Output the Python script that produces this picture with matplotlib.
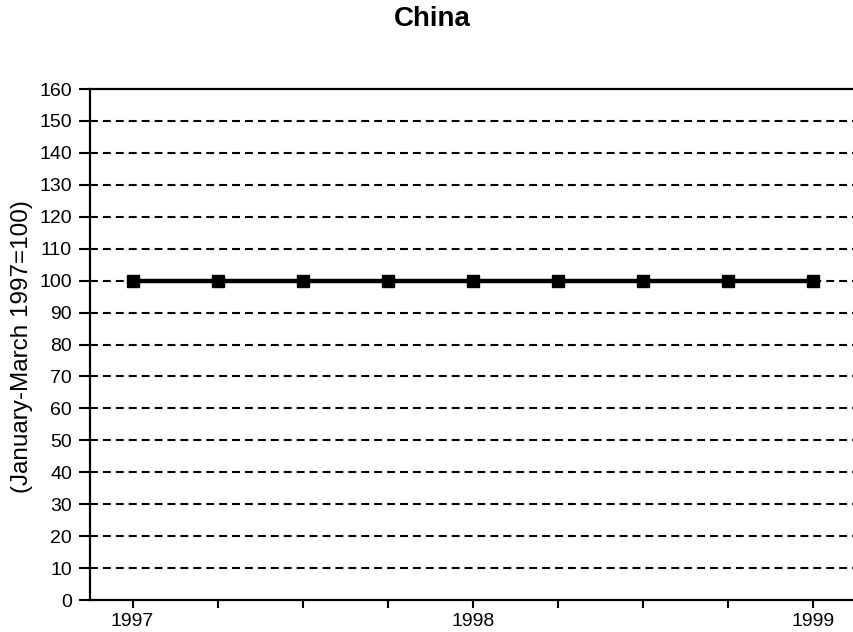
import matplotlib.pyplot as plt

plt.rcParams['font.family'] = ['Liberation Sans', 'DejaVu Sans']

# 季度指数 (1997年1-3月 = 100)
quarters = list(range(9))
index_values = [100, 100, 100, 100, 100, 100, 100, 100, 100]
year_labels = ['1997', '', '', '', '1998', '', '', '', '1999']
y_ticks = list(range(0, 161, 10))

fig = plt.figure(figsize=(8.54, 6.32), dpi=100)
ax = fig.add_axes([0.1054, 0.0506, 0.8966, 0.8085])

# 虚线网格
for v in y_ticks[1:-1]:
    ax.axhline(v, color='black', linewidth=1.5, linestyle=(0, (3.8, 2.4)), zorder=1)

ax.plot(quarters, index_values, color='black', linewidth=3.2,
        marker='s', markersize=9, zorder=3)

ax.set_xlim(-0.5, 8.5)
ax.set_ylim(0, 160)
ax.set_yticks(y_ticks)
ax.set_xticks(quarters)
ax.set_xticklabels(year_labels)

for side in ['left', 'bottom', 'top']:
    ax.spines[side].set_linewidth(1.6)
ax.spines['right'].set_visible(False)

ax.tick_params(axis='y', direction='out', length=8, width=1.5, pad=5, labelsize=14)
ax.tick_params(axis='x', direction='out', length=6, width=1.5, pad=3, labelsize=14)

fig.text(22 / 854, 1 - 347 / 632, '(January-March 1997=100)', rotation=90,
         ha='center', va='center', fontsize=17.5)

fig.text(0.506, 1 - 19 / 632, 'China', ha='center', va='center',
         fontsize=20, fontweight='bold')

fig.savefig('out.png', dpi=100)
